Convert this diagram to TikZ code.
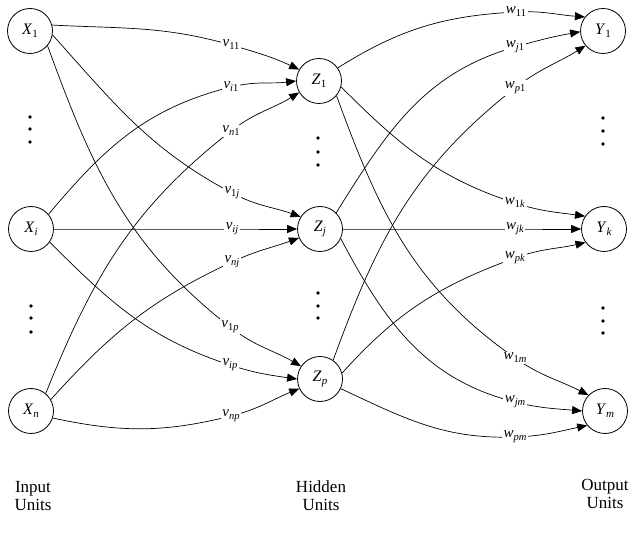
\documentclass[tikz,border=0pt]{standalone}
\usepackage{fontspec}
\setmainfont{Liberation Serif}
\usetikzlibrary{arrows.meta}
\newcommand{\nlab}[2]{\fontsize{16}{16}\selectfont\textit{#1}\raisebox{-3pt}{\fontsize{11}{11}\selectfont #2}}
\newcommand{\elab}[2]{\fontsize{15}{15}\selectfont\textit{#1}\raisebox{-3pt}{\fontsize{10.5}{10.5}\selectfont #2}}
\begin{document}
\begin{tikzpicture}[x=1pt,y=1pt,
  unit/.style={circle,draw,line width=0.8pt,minimum size=45pt,inner sep=0pt,fill=white},
  edge/.style={line width=0.7pt,-{Triangle[length=10pt,width=8pt]}},
  wlab/.style={fill=white,inner sep=1.5pt},
  captext/.style={align=center,font=\fontsize{17}{18}\selectfont},
  dotf/.style={fill=black}]
\useasboundingbox (0,0) rectangle (636,532);
% units
\node[unit] (X1) at (30,501) {\nlab{X}{1}};
\node[unit] (Xi) at (31,303) {\nlab{X}{\textit{i}}};
\node[unit] (Xn) at (31,121) {\nlab{X}{\textit{n}}};
\node[unit] (Z1) at (319,451) {\nlab{Z}{1}};
\node[unit] (Zj) at (320,303) {\nlab{Z}{\textit{j}}};
\node[unit] (Zp) at (320,153) {\nlab{Z}{\textit{p}}};
\node[unit] (Y1) at (603,501) {\nlab{Y}{1}};
\node[unit] (Yk) at (604,303) {\nlab{Y}{\textit{k}}};
\node[unit] (Ym) at (605,121) {\nlab{Y}{\textit{m}}};
% label positions
\coordinate (cv11) at (231,487);
\coordinate (cvi1) at (231,445);
\coordinate (cvn1) at (231,401);
\coordinate (cv1j) at (232,339);
\coordinate (cvij) at (232,303);
\coordinate (cvnj) at (232,270);
\coordinate (cv1p) at (230,205);
\coordinate (cvip) at (230,167);
\coordinate (cvnp) at (231,116);
\coordinate (cw11) at (516,520);
\coordinate (cwj1) at (515,485);
\coordinate (cwp1) at (515,444);
\coordinate (cw1k) at (515,329);
\coordinate (cwjk) at (515,303);
\coordinate (cwpk) at (515,274);
\coordinate (cw1m) at (515,174);
\coordinate (cwjm) at (515,130);
\coordinate (cwpm) at (515,95);
% input -> hidden
\draw[edge] (X1.15) to[out=-3,in=164] (cv11) to[out=-16,in=155] (Z1.150);
\draw[edge] (Xi.40) to[out=50,in=194] (cvi1) to[out=14,in=187] (Z1.180);
\draw[edge] (Xn.50) to[out=68,in=218] (cvn1) to[out=38,in=212] (Z1.210);
\draw[edge] (X1.-10) to[out=-48,in=152] (cv1j) to[out=-28,in=160] (Zj.148);
\draw[edge] (Xi) -- (cvij) -- (Zj);
\draw[edge] (Xn.30) to[out=48,in=205] (cvnj) to[out=25,in=200] (Zj.203);
\draw[edge] (X1.-40) to[out=-70,in=142] (cv1p) to[out=-38,in=150] (Zp.146);
\draw[edge] (Xi.-35) to[out=-45,in=162] (cvip) to[out=-18,in=172] (Zp.180);
\draw[edge] (Xn.-18) to[out=-12,in=194] (cvnp) to[out=14,in=202] (Zp.205);
% hidden -> output
\draw[edge] (Z1.35) to[out=32,in=183] (cw11) to[out=3,in=176] (Y1.142);
\draw[edge] (Zj.45) to[out=58,in=196] (cwj1) to[out=16,in=190] (Y1.182);
\draw[edge] (Zp.55) to[out=70,in=218] (cwp1) to[out=38,in=212] (Y1.220);
\draw[edge] (Z1.-15) to[out=-45,in=162] (cw1k) to[out=-18,in=172] (Yk.146);
\draw[edge] (Z1.-40) to[out=-70,in=145] (cw1m) to[out=-35,in=153] (Ym.136);
\draw[edge] (Zj) -- (cwjk) -- (Yk);
\draw[edge] (Zj.-25) to[out=-62,in=166] (cwjm) to[out=-14,in=175] (Ym.180);
\draw[edge] (Zp.15) to[out=48,in=200] (cwpk) to[out=20,in=193] (Yk.216);
\draw[edge] (Zp.-25) to[out=-25,in=182] (cwpm) to[out=2,in=192] (Ym.219);
% weight labels
\node[wlab] (lv11) at (cv11) {\elab{v}{11}};
\node[wlab] (lvi1) at (cvi1) {\elab{v}{\textit{i}1}};
\node[wlab] (lvn1) at (cvn1) {\elab{v}{\textit{n}1}};
\node[wlab] (lv1j) at (cv1j) {\elab{v}{1\textit{j}}};
\node[wlab] (lvij) at (cvij) {\elab{v}{\textit{ij}}};
\node[wlab] (lvnj) at (cvnj) {\elab{v}{\textit{nj}}};
\node[wlab] (lv1p) at (cv1p) {\elab{v}{1\textit{p}}};
\node[wlab] (lvip) at (cvip) {\elab{v}{\textit{ip}}};
\node[wlab] (lvnp) at (cvnp) {\elab{v}{\textit{np}}};
\node[wlab] (lw11) at (cw11) {\elab{w}{11}};
\node[wlab] (lwj1) at (cwj1) {\elab{w}{\textit{j}1}};
\node[wlab] (lwp1) at (cwp1) {\elab{w}{\textit{p}1}};
\node[wlab] (lw1k) at (cw1k) {\elab{w}{1\textit{k}}};
\node[wlab] (lwjk) at (cwjk) {\elab{w}{\textit{jk}}};
\node[wlab] (lwpk) at (cwpk) {\elab{w}{\textit{pk}}};
\node[wlab] (lw1m) at (cw1m) {\elab{w}{1\textit{m}}};
\node[wlab] (lwjm) at (cwjm) {\elab{w}{\textit{jm}}};
\node[wlab] (lwpm) at (cwpm) {\elab{w}{\textit{pm}}};
% ellipsis dots
\foreach \x/\y in {30/415,30/403,30/390, 31/226,31/214,31/200,
                   318/394,318/380,318/367, 318/239,318/226,318/214,
                   603/414,603/401,603/388, 603/224,603/211,603/199}
  \fill[dotf] (\x,\y) circle (1.8);
% captions
\node[captext] (capin) at (33,36) {Input\\Units};
\node[captext] (caphid) at (321,36) {Hidden\\Units};
\node[captext] (capout) at (605,38) {Output\\Units};
\end{tikzpicture}
\end{document}
